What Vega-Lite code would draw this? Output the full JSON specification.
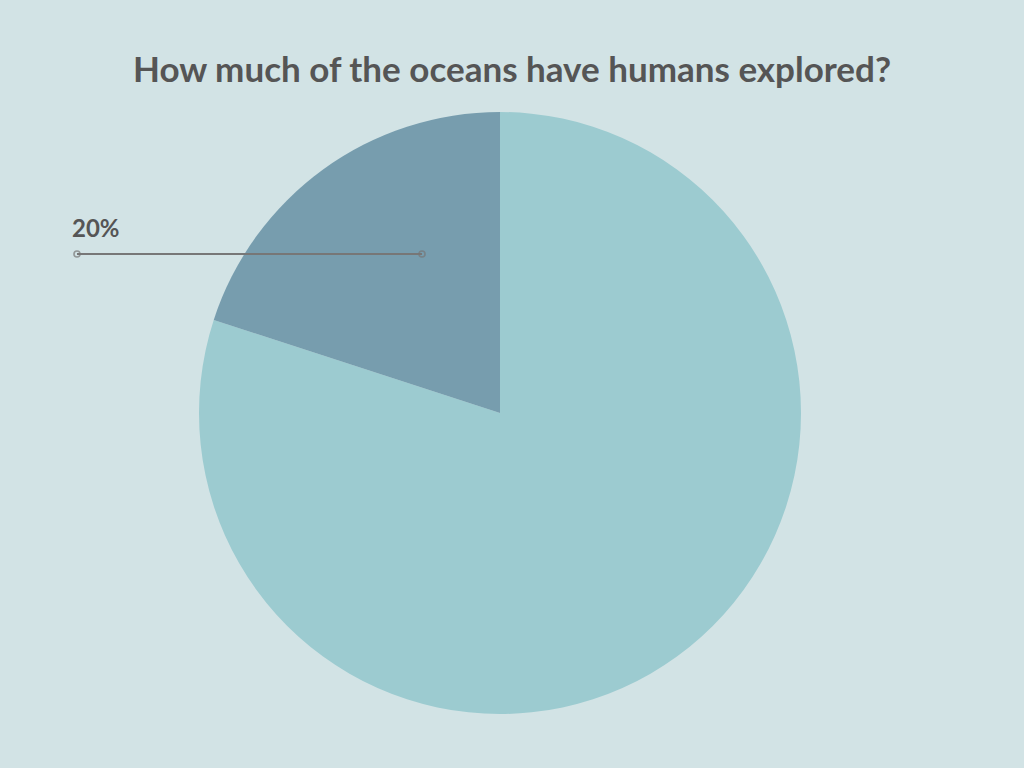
{
  "$schema": "https://vega.github.io/schema/vega-lite/v6.json",
  "width": 1000,
  "height": 710,
  "autosize": {"type": "none"},
  "padding": {"left": 0, "right": 24, "top": 58, "bottom": 0},
  "background": "#d2e3e5",
  "config": {"view": {"stroke": null}},
  "title": {
    "text": "How much of the oceans have humans explored?",
    "font": "Lato",
    "fontWeight": "bold",
    "fontSize": 35,
    "color": "#555555",
    "anchor": "middle",
    "offset": -31,
    "dx": 12
  },
  "data": {
    "values": [
      {"category": "Unexplored", "value": 80, "label": "80%"},
      {"category": "Explored", "value": 20, "label": "20%"}
    ]
  },
  "layer": [
    {
      "mark": {"type": "arc", "outerRadius": 301, "stroke": null},
      "encoding": {
        "theta": {"field": "value", "type": "quantitative", "stack": true},
        "order": {"field": "value", "sort": "descending"},
        "color": {
          "field": "category",
          "type": "nominal",
          "scale": {"domain": ["Unexplored", "Explored"], "range": ["#9ccbd0", "#779dae"]},
          "legend": null
        }
      }
    },
    {
      "transform": [{"filter": "datum.category === 'Explored'"}],
      "mark": {"type": "rule", "color": "#777777", "strokeWidth": 2},
      "encoding": {
        "x": {"datum": -1.4053, "type": "quantitative", "scale": {"domain": [-1.6611, 1.6611], "nice": false, "zero": false}, "axis": null},
        "x2": {"datum": -0.2591},
        "y": {"datum": 0.5282, "type": "quantitative", "scale": {"domain": [-1.1794, 1.1794], "nice": false, "zero": false}, "axis": null}
      }
    },
    {
      "transform": [{"filter": "datum.category === 'Explored'"}],
      "mark": {"type": "point", "filled": false, "color": "#777777", "strokeWidth": 1.6, "size": 36},
      "encoding": {
        "x": {"datum": -1.4053, "type": "quantitative"},
        "y": {"datum": 0.5282, "type": "quantitative"}
      }
    },
    {
      "transform": [{"filter": "datum.category === 'Explored'"}],
      "mark": {"type": "point", "filled": false, "color": "#777777", "strokeWidth": 1.6, "size": 36},
      "encoding": {
        "x": {"datum": -0.2591, "type": "quantitative"},
        "y": {"datum": 0.5282, "type": "quantitative"}
      }
    },
    {
      "transform": [{"filter": "datum.category === 'Explored'"}],
      "mark": {"type": "text", "font": "Lato", "fontWeight": "bold", "fontSize": 24, "color": "#555555", "align": "left", "baseline": "alphabetic"},
      "encoding": {
        "x": {"datum": -1.4219, "type": "quantitative"},
        "y": {"datum": 0.5847, "type": "quantitative"},
        "text": {"field": "label"}
      }
    }
  ]
}
